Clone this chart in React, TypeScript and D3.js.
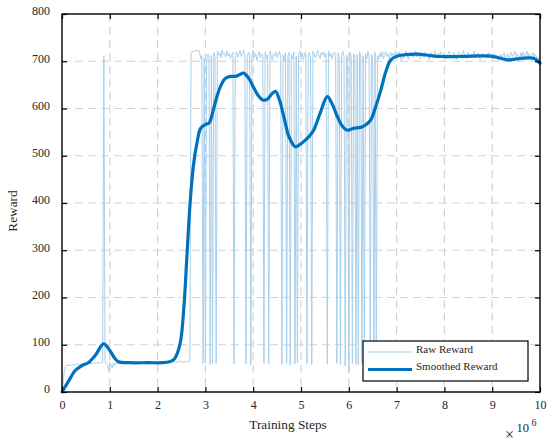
import React, { useEffect, useRef } from 'react';
import * as d3 from 'd3';

// raw reward sampled every 0.025 x 10^6 steps, from 0 to 10
const rawStep = 0.025;
const rawReward: number[] = [
  0, 22, 45, 54, 57,
  56, 57, 56, 57, 58, 57, 58, 58, 59, 58, 59, 59, 60, 59, 60, 60, 61, 60, 61, 61, 60, 61, 62, 61, 62, 62, 61, 62, 63, 62,
  712,
  63, 60, 58, 44, 62, 58, 50, 61, 55, 62, 61, 62,
  62, 63, 62, 62, 63, 62, 63, 63, 62, 63, 62, 63, 63, 62, 62, 63, 64, 63, 62, 63,
  63, 62, 63, 64, 63, 63, 62, 63, 64, 63, 63, 64, 63, 62, 63, 64, 64, 63, 64, 63,
  64, 63, 64, 64, 63, 64, 65, 64, 63, 64, 64, 65, 64, 64, 63, 64, 65, 64, 64, 65,
  718, 721, 720, 722, 723, 721, 724, 722, 705, 712,
  60, 706, 62, 702, 715, 709, 58, 712, 61, 718, 710, 60,
  721, 712, 718, 708, 723, 714, 716, 709, 722, 711, 717, 706, 713, 719,
  59, 712, 720, 708, 716, 722, 710, 718, 724, 713,
  60, 706, 719, 712,
  58, 715, 723, 709, 717, 702, 712, 720, 707, 716, 711,
  61, 719, 706, 714,
  60, 722, 710, 703, 716, 712, 720, 708, 715, 721, 709,
  59, 713, 701, 718,
  61, 710, 719,
  57, 714, 705, 720,
  60, 711, 62,
  716, 722, 709, 718, 704, 715, 720,
  60, 712, 719, 707,
  58, 721, 714, 708, 717, 723, 711, 706, 719, 713, 720, 709, 716,
  59, 722, 710, 717, 705, 714, 720, 712,
  61, 718, 708,
  58, 715, 721, 710,
  55, 713, 706,
  42, 719, 711,
  60, 716, 709,
  59, 714,
  57, 720, 708,
  60, 712,
  58, 717, 705, 721, 710,
  61, 715, 707,
  59, 719,
  60,
  712, 704, 718, 709, 721, 706, 714, 720, 710, 716, 703, 719, 712, 717, 708, 722,
  715, 709, 720, 712, 701, 717, 706, 713, 722, 710, 704, 716, 711, 719, 707, 714, 721, 709, 716, 712,
  705, 718, 713, 708, 720, 711, 716, 703, 714, 719, 709, 715, 722, 710, 706, 717, 712, 720, 708, 714,
  718, 710, 705, 716, 721, 712, 707, 715, 719, 711, 704, 713, 720, 709, 716, 712, 723, 710, 706, 715,
  719, 713, 708, 716, 711, 721, 707, 714, 718, 710, 703, 712, 717, 709, 715, 706, 713, 719, 708, 714,
  711, 705, 716, 709, 713, 702, 710, 715, 707, 712, 718, 706, 711, 716, 704, 713, 719, 710, 714, 721,
  709, 716, 712, 706, 718, 711, 720, 708, 714, 722, 710, 717, 705, 713, 719, 709, 715, 711, 702, 708, 700,
];

// smoothed reward
const smoothSteps = [
  0, 0.15, 0.27, 0.4, 0.55, 0.7, 0.87, 1.0, 1.1, 1.18, 1.4, 1.8, 2.1, 2.25, 2.35, 2.47, 2.55, 2.62, 2.68, 2.75,
  2.82, 2.9, 3.0, 3.08, 3.16, 3.24, 3.33, 3.42, 3.52, 3.63, 3.72, 3.8, 3.9, 3.98, 4.1, 4.2, 4.3, 4.4, 4.47, 4.55,
  4.64, 4.75, 4.88, 4.98, 5.09, 5.18, 5.27, 5.4, 5.55, 5.65, 5.76, 5.87, 5.97, 6.1, 6.25, 6.35, 6.46, 6.55, 6.67, 6.78,
  6.88, 7.02, 7.2, 7.44, 7.7, 7.92, 8.3, 8.6, 8.97, 9.15, 9.32, 9.45, 9.6, 9.75, 9.88, 10.0,
];
const smoothReward = [
  0, 25, 45, 55, 62, 78, 102, 88, 72, 64, 62, 62, 62, 64, 70, 102, 180, 300, 400, 480,
  525, 558, 566, 570, 595, 625, 650, 664, 668, 668, 672, 675, 665, 650, 628, 618, 620, 632, 636, 618,
  583, 540, 519, 524, 533, 542, 555, 590, 625, 610, 583, 562, 554, 558, 560, 565, 576, 600, 639, 680,
  703, 711, 714, 715, 712, 710, 710, 711, 711, 707, 703, 704, 706, 707, 706, 696,
];

const xTicks = [0, 1, 2, 3, 4, 5, 6, 7, 8, 9, 10];
const yTicks = [0, 100, 200, 300, 400, 500, 600, 700, 800];
const legendLabels = ['Raw Reward', 'Smoothed Reward'];

const W = 550;
const H = 445;
const margin = { top: 14, right: 10, bottom: 53, left: 62 };
const FONT = '"Liberation Serif", "Times New Roman", serif';
const TEXT_COLOR = '#262626';
const RAW_COLOR = '#a8cfec';
const SMOOTH_COLOR = '#0072bd';

const App: React.FC = () => {
  const svgRef = useRef<SVGSVGElement>(null);

  useEffect(() => {
    const svg = d3.select(svgRef.current).html('');
    const iw = W - margin.left - margin.right;
    const ih = H - margin.top - margin.bottom;
    const x = d3.scaleLinear().domain([0, 10]).range([0, iw]);
    const y = d3.scaleLinear().domain([0, 800]).range([ih, 0]);

    const g = svg.append('g').attr('transform', `translate(${margin.left},${margin.top})`);

    // grid
    g.append('g').selectAll('line').data(xTicks.slice(1, -1)).enter().append('line')
      .attr('x1', d => x(d)).attr('x2', d => x(d)).attr('y1', 0).attr('y2', ih)
      .attr('stroke', '#d2d2d2').attr('stroke-width', 1.2).attr('stroke-dasharray', '8,5');
    g.append('g').selectAll('line').data(yTicks.slice(1, -1)).enter().append('line')
      .attr('y1', d => y(d)).attr('y2', d => y(d)).attr('x1', 0).attr('x2', iw)
      .attr('stroke', '#d2d2d2').attr('stroke-width', 1.2).attr('stroke-dasharray', '8,5');

    // raw line
    const rawLine = d3.line<number>().x((_, i) => x(i * rawStep)).y(d => y(d));
    g.append('path').attr('d', rawLine(rawReward)!)
      .attr('fill', 'none').attr('stroke', RAW_COLOR).attr('stroke-width', 1);

    // smoothed line
    const smoothLine = d3.line<number>()
      .x((_, i) => x(smoothSteps[i])).y(d => y(d))
      .curve(d3.curveCatmullRom.alpha(0.5));
    g.append('path').attr('d', smoothLine(smoothReward)!)
      .attr('fill', 'none').attr('stroke', SMOOTH_COLOR).attr('stroke-width', 3.2)
      .attr('stroke-linejoin', 'round').attr('stroke-linecap', 'round');

    // axes
    const styleAxis = (sel: d3.Selection<SVGGElement, unknown, null, undefined>) => {
      sel.select('.domain').remove();
      sel.selectAll('line').attr('stroke', '#000').attr('stroke-width', 1.2);
      sel.selectAll('text').attr('font-family', FONT).attr('font-size', 12).attr('fill', TEXT_COLOR);
    };
    g.append('g').attr('transform', `translate(0,${ih})`)
      .call(d3.axisBottom(x).tickValues(xTicks).tickSize(-5).tickPadding(8).tickFormat(d3.format('d')))
      .call(styleAxis);
    g.append('g')
      .call(d3.axisLeft(y).tickValues(yTicks).tickSize(-5).tickPadding(12).tickFormat(d3.format('d')))
      .call(styleAxis)
      .selectAll('text').attr('y', -3);
    g.append('g')
      .call(d3.axisTop(x).tickValues(xTicks).tickSize(-5).tickFormat(() => ''))
      .call(styleAxis);
    g.append('g').attr('transform', `translate(${iw},0)`)
      .call(d3.axisRight(y).tickValues(yTicks).tickSize(-5).tickFormat(() => ''))
      .call(styleAxis);

    // box
    g.append('rect').attr('width', iw).attr('height', ih)
      .attr('fill', 'none').attr('stroke', '#000').attr('stroke-width', 1.4);

    // labels
    svg.append('text').attr('x', 288).attr('y', 429)
      .attr('text-anchor', 'middle').attr('font-family', FONT).attr('font-size', 13.3).attr('fill', TEXT_COLOR)
      .text('Training Steps');
    svg.append('text').attr('transform', 'translate(16.5,211) rotate(-90)')
      .attr('text-anchor', 'middle').attr('font-family', FONT).attr('font-size', 13.3).attr('fill', TEXT_COLOR)
      .text('Reward');

    // x10^6
    svg.append('text').attr('x', 505).attr('y', 440).attr('font-family', FONT).attr('font-size', 16)
      .attr('fill', TEXT_COLOR).text('×');
    svg.append('text').attr('x', 516.5).attr('y', 432).attr('font-family', FONT).attr('font-size', 12.5)
      .attr('fill', TEXT_COLOR).text('10');
    svg.append('text').attr('x', 531.5).attr('y', 426).attr('font-family', FONT).attr('font-size', 10)
      .attr('fill', TEXT_COLOR).text('6');

    // legend
    const lg = svg.append('g').attr('transform', 'translate(363,341)');
    lg.append('rect').attr('width', 165).attr('height', 40)
      .attr('fill', '#fff').attr('stroke', '#000').attr('stroke-width', 1.2);
    const colors = [RAW_COLOR, SMOOTH_COLOR];
    const widths = [1, 3.2];
    legendLabels.forEach((label, i) => {
      const yy = 11 + i * 17.5;
      lg.append('line').attr('x1', 5).attr('x2', 49).attr('y1', yy).attr('y2', yy)
        .attr('stroke', colors[i]).attr('stroke-width', widths[i]);
      lg.append('text').attr('x', 53).attr('y', yy - 3).attr('dy', '0.35em')
        .attr('font-family', FONT).attr('font-size', 11).attr('fill', TEXT_COLOR).text(label);
    });
  }, []);

  return (
    <svg ref={svgRef} width={W} height={H}
      style={{ position: 'absolute', left: 0, top: 0, background: '#fff' }} />
  );
};

export default App;
